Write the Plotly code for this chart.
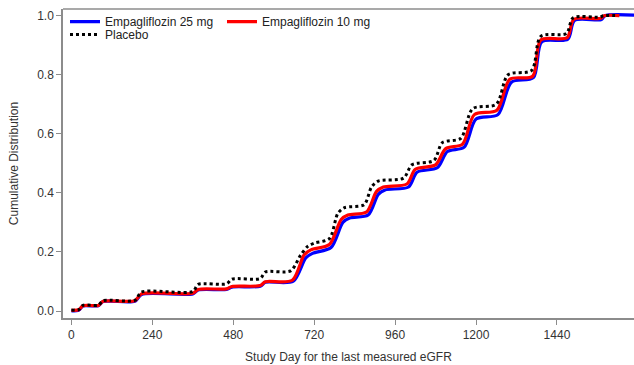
import plotly.graph_objects as go

# Cumulative distribution of the study day of the last eGFR measurement
day_25mg = [0, 22, 34, 80, 94, 188, 208, 360, 376, 460, 476, 560, 575, 658, 695, 715, 770, 805, 825,
            880, 910, 930, 1000, 1025, 1085, 1115, 1165, 1200, 1265, 1305, 1370, 1395, 1472, 1492,
            1572, 1582, 1700]
cdf_25mg = [0.0, 0.003, 0.017, 0.018, 0.032, 0.033, 0.056, 0.058, 0.071, 0.073, 0.081, 0.084, 0.097,
            0.101, 0.18, 0.195, 0.215, 0.30, 0.315, 0.325, 0.395, 0.41, 0.42, 0.47, 0.485, 0.54,
            0.555, 0.65, 0.665, 0.775, 0.79, 0.912, 0.92, 0.984, 0.987, 1.0, 1.0]

day_10mg = [0, 22, 34, 80, 94, 188, 208, 360, 376, 460, 476, 560, 575, 655, 690, 710, 765, 800, 820,
            875, 905, 925, 995, 1020, 1080, 1110, 1160, 1195, 1262, 1300, 1368, 1392, 1470, 1490,
            1570, 1580, 1625]
cdf_10mg = [0.002, 0.004, 0.018, 0.019, 0.033, 0.035, 0.058, 0.06, 0.073, 0.075, 0.083, 0.086, 0.099,
            0.104, 0.19, 0.207, 0.225, 0.31, 0.325, 0.335, 0.405, 0.42, 0.43, 0.48, 0.495, 0.55,
            0.565, 0.665, 0.68, 0.785, 0.795, 0.918, 0.925, 0.988, 0.991, 1.0, 1.0]

day_pbo = [0, 22, 34, 80, 94, 188, 208, 360, 376, 460, 476, 560, 575, 650, 680, 700, 720, 765, 790,
           810, 868, 890, 910, 985, 1010, 1075, 1100, 1155, 1190, 1260, 1295, 1365, 1392, 1468,
           1488, 1568, 1578, 1620]
cdf_pbo = [0.003, 0.005, 0.019, 0.02, 0.035, 0.036, 0.064, 0.066, 0.09, 0.092, 0.108, 0.11, 0.132,
           0.136, 0.19, 0.218, 0.23, 0.245, 0.33, 0.35, 0.36, 0.42, 0.44, 0.45, 0.495, 0.51, 0.57,
           0.585, 0.685, 0.70, 0.80, 0.815, 0.93, 0.94, 0.993, 0.995, 1.0, 1.0]

x_ticks = [0, 240, 480, 720, 960, 1200, 1440]
y_ticks = [0.0, 0.2, 0.4, 0.6, 0.8, 1.0]

FONT = "Liberation Sans, Arial, sans-serif"
AXIS_GREY = "#8c8c8c"
TEXT = "#333333"

fig = go.Figure()
fig.add_trace(go.Scatter(x=day_25mg, y=cdf_25mg, mode="lines", name="Empagliflozin 25 mg",
                         line=dict(color="#0000ff", width=3.2, shape="spline", smoothing=0.8),
                         legend="legend"))
fig.add_trace(go.Scatter(x=day_10mg, y=cdf_10mg, mode="lines", name="Empagliflozin 10 mg",
                         line=dict(color="#ff0000", width=3.2, shape="spline", smoothing=0.8),
                         legend="legend"))
fig.add_trace(go.Scatter(x=day_pbo, y=cdf_pbo, mode="lines", name="Placebo",
                         line=dict(color="#000000", width=3, dash="dot", shape="spline", smoothing=0.8),
                         legend="legend2"))

# top frame line (the right side of the frame is open)
fig.add_shape(type="line", xref="paper", yref="paper", x0=0, x1=1, y0=1, y1=1,
              line=dict(color=AXIS_GREY, width=1.5))

fig.update_layout(
    width=634, height=365,
    margin=dict(l=63, r=0, t=9, b=47),
    paper_bgcolor="white", plot_bgcolor="white",
    font=dict(family=FONT, size=12, color=TEXT),
    showlegend=True,
    legend=dict(orientation="h", x=0.0035, y=1.006, xanchor="left", yanchor="top",
                bgcolor="rgba(0,0,0,0)", font=dict(size=12, color="#222222"),
                entrywidth=112, entrywidthmode="pixels", tracegroupgap=0),
    legend2=dict(orientation="h", x=0.0035, y=0.964, xanchor="left", yanchor="top",
                 bgcolor="rgba(0,0,0,0)", font=dict(size=12, color="#222222")),
    xaxis=dict(range=[-25, 1668.5], tickmode="array", tickvals=x_ticks,
               ticktext=[str(v) for v in x_ticks],
               showgrid=False, zeroline=False, showline=True, linecolor=AXIS_GREY, linewidth=1.5,
               ticks="outside", ticklen=5, tickcolor=AXIS_GREY, tickwidth=1,
               tickfont=dict(size=12, color=TEXT),
               title=dict(text="Study Day for the last measured eGFR", standoff=11,
                          font=dict(size=12, color=TEXT))),
    yaxis=dict(range=[-0.0237, 1.0227], tickmode="array", tickvals=y_ticks,
               ticktext=[f"{v:.1f}" for v in y_ticks],
               showgrid=False, zeroline=False, showline=True, linecolor=AXIS_GREY, linewidth=1.5,
               ticks="outside", ticklen=5, tickcolor=AXIS_GREY, tickwidth=1,
               tickfont=dict(size=12, color=TEXT),
               title=dict(text="Cumulative Distribution", standoff=16,
                          font=dict(size=12, color=TEXT))),
)

fig.write_html("out.html")
